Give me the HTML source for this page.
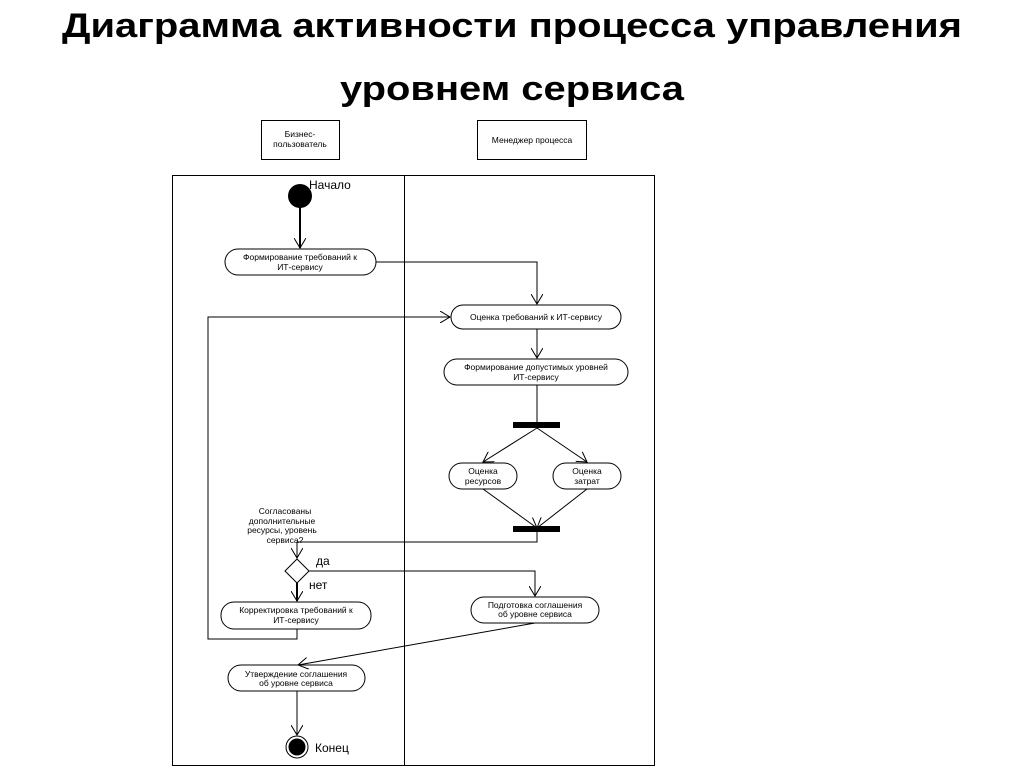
<!DOCTYPE html>
<html><head><meta charset="utf-8"><style>
html,body{margin:0;padding:0;background:#fff;}
svg{display:block;}
text{font-family:"Liberation Sans",sans-serif;fill:#000;}
.s{font-size:8.5px;}
</style></head><body>
<svg width="1024" height="767" viewBox="0 0 1024 767" xmlns="http://www.w3.org/2000/svg">
<defs>
<marker id="a" markerWidth="12" markerHeight="12" refX="10" refY="6" orient="auto" markerUnits="userSpaceOnUse">
<path d="M0,0 L10,6 L0,12" fill="none" stroke="#000" stroke-width="1"/></marker>
</defs>
<text x="512" y="37" text-anchor="middle" font-size="34" font-weight="bold" textLength="900" lengthAdjust="spacingAndGlyphs">Диаграмма активности процесса управления</text>
<text x="512" y="100" text-anchor="middle" font-size="34" font-weight="bold" textLength="344" lengthAdjust="spacingAndGlyphs">уровнем сервиса</text>

<g fill="none" stroke="#000" stroke-width="1">
<rect x="261.5" y="120.5" width="78" height="39"/>
<rect x="477.5" y="120.5" width="109" height="39"/>
<rect x="172.5" y="175.5" width="482" height="590"/>
<line x1="404.5" y1="175" x2="404.5" y2="766"/>
<!-- nodes -->
<rect x="225" y="249" width="151" height="26" rx="13"/>
<rect x="451" y="305" width="170" height="24" rx="12"/>
<rect x="444" y="359" width="184" height="26" rx="13"/>
<rect x="449" y="463" width="68" height="26" rx="13"/>
<rect x="553" y="463" width="68" height="26" rx="13"/>
<rect x="221" y="602" width="150" height="27" rx="13"/>
<rect x="471" y="597" width="128" height="26" rx="13"/>
<rect x="228" y="665" width="137" height="26" rx="13"/>
<!-- connectors -->
<line x1="300" y1="206" x2="300" y2="248" stroke-width="2" marker-end="url(#a)"/>
<polyline points="376,262 537,262 537,304" marker-end="url(#a)"/>
<polyline points="297,629 297,639 208,639 208,317 450,317" marker-end="url(#a)"/>
<line x1="537" y1="329" x2="537" y2="358" marker-end="url(#a)"/>
<line x1="537" y1="385" x2="537" y2="422"/>
<line x1="537" y1="428" x2="483" y2="462" marker-end="url(#a)"/>
<line x1="537" y1="428" x2="587" y2="462" marker-end="url(#a)"/>
<line x1="483" y1="489" x2="537" y2="528" marker-end="url(#a)"/>
<line x1="587" y1="489" x2="537" y2="528" marker-end="url(#a)"/>
<polyline points="537,532 537,542 297,542 297,558" marker-end="url(#a)"/>
<polygon points="297,559 309,571 297,583 285,571"/>
<polyline points="309,571 535,571 535,596" marker-end="url(#a)"/>
<line x1="297" y1="583" x2="297" y2="601" stroke-width="2" marker-end="url(#a)"/>
<line x1="535" y1="623" x2="298" y2="665" marker-end="url(#a)"/>
<line x1="297" y1="691" x2="297" y2="735" marker-end="url(#a)"/>
<circle cx="297" cy="747" r="11"/>
</g>
<circle cx="300" cy="196" r="12" fill="#000"/>
<circle cx="297" cy="747" r="8.5" fill="#000"/>
<rect x="513" y="422" width="47" height="6" fill="#000"/>
<rect x="513" y="526" width="47" height="6" fill="#000"/>

<g class="s" text-anchor="middle">
<text x="300" y="137">Бизнес-</text>
<text x="300" y="147">пользователь</text>
<text x="532" y="143">Менеджер процесса</text>
<text x="300" y="260">Формирование требований к</text>
<text x="300" y="270">ИТ-сервису</text>
<text x="536" y="320">Оценка требований к ИТ-сервису</text>
<text x="536" y="370">Формирование допустимых уровней</text>
<text x="536" y="380">ИТ-сервису</text>
<text x="483" y="474">Оценка</text>
<text x="483" y="484">ресурсов</text>
<text x="587" y="474">Оценка</text>
<text x="587" y="484">затрат</text>
<text x="285" y="514">Согласованы</text>
<text x="282" y="524">дополнительные</text>
<text x="282" y="533">ресурсы, уровень</text>
<text x="285" y="543">сервиса?</text>
<text x="296" y="613">Корректировка требований к</text>
<text x="296" y="623">ИТ-сервису</text>
<text x="535" y="608">Подготовка соглашения</text>
<text x="535" y="617">об уровне сервиса</text>
<text x="296" y="677">Утверждение соглашения</text>
<text x="296" y="686">об уровне сервиса</text>
</g>
<text x="309" y="189" font-size="12">Начало</text>
<text x="316" y="565" font-size="12">да</text>
<text x="309" y="589" font-size="12">нет</text>
<text x="315" y="752" font-size="12">Конец</text>
</svg>
</body></html>
